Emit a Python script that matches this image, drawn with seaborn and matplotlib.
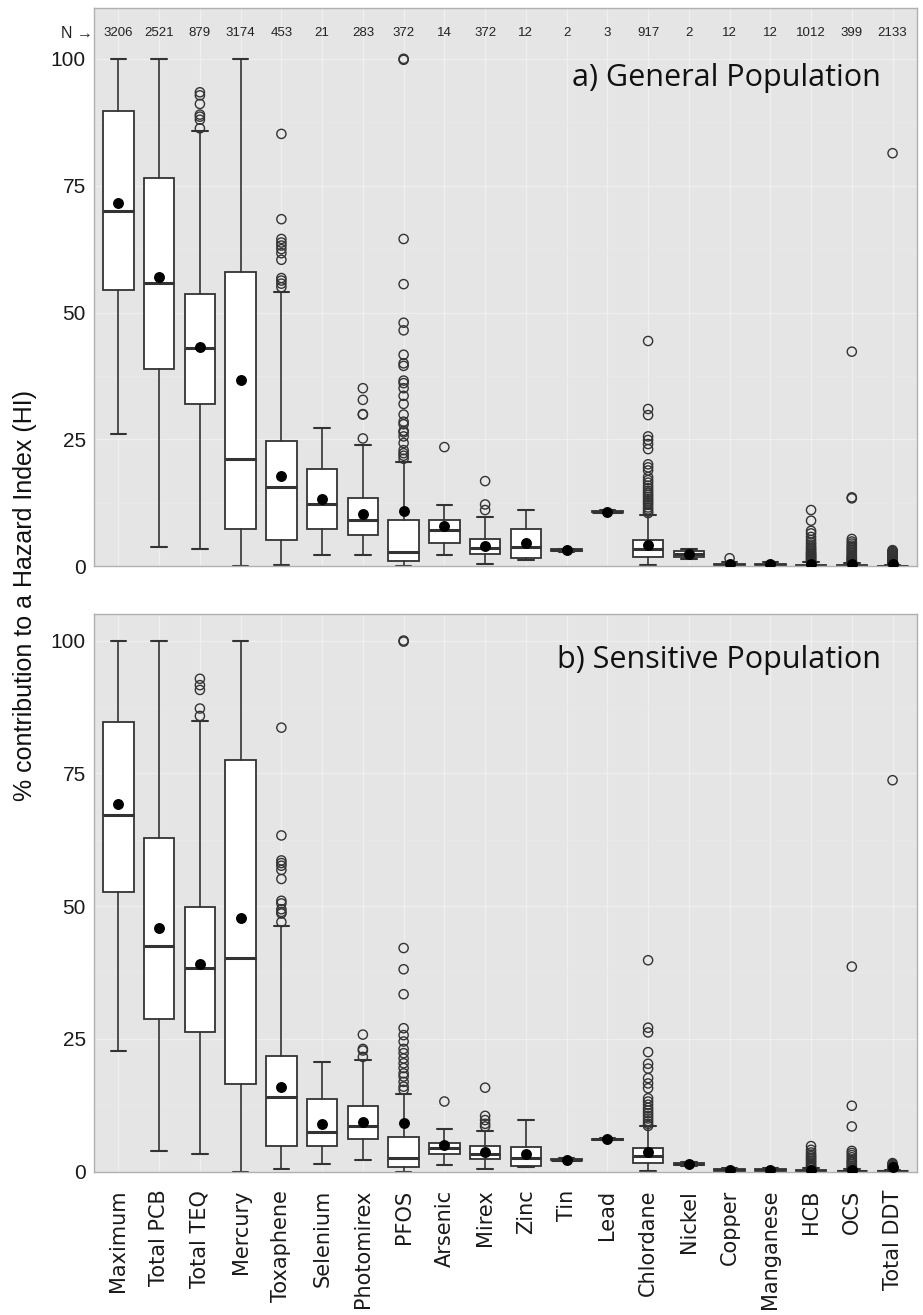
import numpy as np
import pandas as pd
import matplotlib
matplotlib.use("Agg")
import matplotlib.pyplot as plt
import seaborn as sns

# ---------------- data ----------------
categories = ["Maximum", "Total PCB", "Total TEQ", "Mercury", "Toxaphene", "Selenium",
              "Photomirex", "PFOS", "Arsenic", "Mirex", "Zinc", "Tin", "Lead", "Chlordane",
              "Nickel", "Copper", "Manganese", "HCB", "OCS", "Total DDT"]
n_counts = [3206, 2521, 879, 3174, 453, 21, 283, 372, 14, 372, 12, 2, 3, 917, 2, 12, 12, 1012, 399, 2133]

# a) General Population
a_lo = [26.0, 3.9, 3.4, 0.0, 0.3, 2.3, 2.2, 0.0, 2.2, 0.4, 1.2, 2.9, 10.5, 0.2, 1.5, 0.1, 0.1, 0.0, 0.0, 0.0]
a_q1 = [54.4, 38.8, 32.0, 7.4, 5.1, 7.4, 6.2, 1.0, 4.6, 2.4, 1.6, 3.05, 10.65, 1.9, 1.9, 0.2, 0.2, 0.05, 0.03, 0.02]
a_med = [70.1, 55.8, 43.0, 21.1, 15.6, 12.2, 9.1, 2.8, 7.2, 3.6, 3.8, 3.2, 10.8, 3.35, 2.5, 0.3, 0.3, 0.15, 0.1, 0.05]
a_q3 = [89.8, 76.5, 53.6, 58.0, 24.7, 19.1, 13.4, 9.1, 9.1, 5.4, 7.3, 3.35, 10.95, 5.2, 3.1, 0.5, 0.5, 0.35, 0.25, 0.12]
a_hi = [100, 100, 85.7, 100, 54.0, 27.3, 23.9, 20.6, 12.0, 9.7, 11.2, 3.5, 11.1, 10.1, 3.5, 0.9, 0.8, 0.8, 0.6, 0.3]
a_mean = [71.5, 57.1, 43.2, 36.7, 17.9, 13.3, 10.3, 11.0, 7.9, 4.0, 4.7, 3.2, 10.8, 4.2, 2.4, 0.4, 0.4, 0.5, 0.5, 0.4]
a_outliers = [
    [], [],
    [93.4, 92.8, 91.1, 89.0, 88.6, 88.0, 86.3],
    [],
    [85.2, 68.4, 64.5, 63.8, 63.2, 62.5, 61.7, 60.4, 56.8, 56.3, 55.7, 55.0],
    [],
    [35.1, 32.8, 30.0, 29.9, 25.2],
    [100.0, 99.8, 64.5, 55.6, 48.0, 46.5, 41.7, 40.0, 39.5, 36.6, 36.1, 35.1, 33.6, 32.0, 29.9,
     28.5, 28.0, 26.7, 26.4, 25.6, 24.3, 22.9, 22.3, 21.8, 21.2],
    [23.5],
    [16.8, 12.2, 11.1],
    [], [], [],
    [44.4, 31.0, 29.8, 25.6, 24.9, 24.1, 23.1, 20.1, 19.5, 18.9, 17.6, 17.0, 16.5, 15.9, 15.4,
     14.9, 14.5, 14.1, 13.7, 13.3, 12.9, 12.5, 12.1, 11.6, 11.2, 10.8, 10.5],
    [],
    [1.6],
    [],
    [11.1, 9.0, 7.0, 6.5, 5.8, 5.2, 4.7, 4.3, 3.9, 3.6, 3.3, 3.0, 2.7, 2.5, 2.3, 2.1, 1.9, 1.7,
     1.5, 1.3, 1.1, 0.9],
    [42.3, 13.6, 13.4, 5.4, 4.9, 4.5, 4.1, 3.8, 3.5, 3.2, 2.9, 2.6, 2.3, 2.0, 1.8, 1.6, 1.4, 1.2,
     1.0, 0.8, 0.6],
    [81.4, 3.2, 3.0, 2.8, 2.6, 2.4, 2.2, 2.0, 1.8, 1.6, 1.4, 1.2, 1.0, 0.8, 0.6, 0.4],
]

# b) Sensitive Population
b_lo = [22.7, 3.9, 3.3, 0.0, 0.4, 1.4, 2.2, 0.0, 1.2, 0.4, 0.8, 2.0, 6.0, 0.2, 1.0, 0.1, 0.1, 0.0, 0.0, 0.0]
b_q1 = [52.7, 28.7, 26.2, 16.5, 4.8, 4.9, 6.1, 0.9, 3.3, 2.4, 1.0, 2.1, 6.0, 1.6, 1.2, 0.15, 0.15, 0.05, 0.03, 0.02]
b_med = [67.2, 42.4, 38.3, 40.2, 14.1, 7.4, 8.5, 2.5, 4.4, 3.3, 2.6, 2.25, 6.1, 2.9, 1.4, 0.25, 0.25, 0.12, 0.08, 0.05]
b_q3 = [84.6, 62.9, 49.9, 77.5, 21.8, 13.6, 12.4, 6.5, 5.3, 4.8, 4.6, 2.4, 6.2, 4.5, 1.6, 0.4, 0.4, 0.3, 0.2, 0.1]
b_hi = [100, 100, 84.9, 100, 46.3, 20.6, 21.0, 14.7, 8.0, 7.6, 9.8, 2.5, 6.3, 8.5, 1.8, 0.7, 0.6, 0.7, 0.5, 0.25]
b_mean = [69.2, 45.8, 39.0, 47.7, 15.9, 8.9, 9.4, 9.2, 4.95, 3.6, 3.4, 2.25, 6.1, 3.7, 1.4, 0.35, 0.35, 0.3, 0.3, 0.9]
b_outliers = [
    [], [],
    [92.8, 91.6, 90.7, 87.2, 85.8],
    [],
    [83.6, 63.3, 58.6, 58.1, 57.6, 56.8, 55.1, 51.0, 50.5, 49.4, 48.9, 48.6, 47.0],
    [],
    [25.8, 23.1, 22.8, 21.6],
    [100.0, 99.8, 42.1, 38.1, 33.4, 27.0, 25.7, 24.5, 23.1, 22.3, 21.3, 20.4, 19.5, 18.5, 17.9,
     16.9, 16.0, 15.4],
    [13.2],
    [15.8, 10.5, 9.7, 9.0, 8.5],
    [], [], [],
    [39.8, 27.1, 26.2, 22.5, 20.3, 19.4, 17.6, 16.6, 15.7, 13.8, 13.2, 12.6, 12.0, 11.5, 11.0,
     10.5, 10.0, 9.5, 9.0, 8.6],
    [], [], [],
    [4.8, 4.1, 3.6, 3.2, 2.9, 2.6, 2.3, 2.0, 1.7, 1.4, 1.1, 0.9, 0.7],
    [38.6, 12.4, 8.5, 3.9, 3.5, 3.1, 2.7, 2.3, 2.0, 1.7, 1.4, 1.1, 0.8, 0.6],
    [73.7, 1.6, 1.4, 1.2, 1.0, 0.8, 0.6, 0.4],
]

# ---------------- style ----------------
sns.set_theme(style="darkgrid")
plt.rcParams["font.family"] = ["Liberation Sans", "DejaVu Sans"]
PANEL_BG = "#E5E5E5"
EDGE = "#333333"

fig = plt.figure(figsize=(9.23, 13.15), dpi=100)
ax_a = fig.add_axes([0.1018, 0.5693, 0.8917, 0.4246])
ax_b = fig.add_axes([0.1018, 0.10905, 0.8917, 0.42403])

positions = np.arange(len(categories))


def draw_panel(ax, lo, q1, med, q3, hi, mean, outl, ymax, label):
    ax.set_facecolor(PANEL_BG)
    stats = [dict(whislo=lo[i], q1=q1[i], med=med[i], q3=q3[i], whishi=hi[i],
                  fliers=[], label=categories[i]) for i in range(len(categories))]
    ax.bxp(stats, positions=positions, widths=0.75, capwidths=0.38,
           patch_artist=True, showfliers=False,
           boxprops=dict(facecolor="white", edgecolor=EDGE, linewidth=1.3),
           medianprops=dict(color=EDGE, linewidth=2.2, solid_capstyle="butt"),
           whiskerprops=dict(color=EDGE, linewidth=1.2),
           capprops=dict(color=EDGE, linewidth=1.5))
    ox, oy = [], []
    for i, vals in enumerate(outl):
        for v in vals:
            ox.append(i)
            oy.append(v)
    df_o = pd.DataFrame({"pos": ox, "val": oy})
    sns.scatterplot(data=df_o, x="pos", y="val", ax=ax, marker="o", s=44,
                    color=EDGE, facecolors="none", edgecolor=EDGE, linewidth=1.0,
                    legend=False, zorder=3)
    df_m = pd.DataFrame({"pos": positions, "mean": mean})
    sns.scatterplot(data=df_m, x="pos", y="mean", ax=ax, color="black", s=62,
                    edgecolor="black", linewidth=0, legend=False, zorder=4)

    ax.set_xlim(-0.6, len(categories) - 0.4)
    ax.set_ylim(0, ymax)
    ax.set_yticks([0, 25, 50, 75, 100])
    ax.set_yticks([12.5, 37.5, 62.5, 87.5], minor=True)
    ax.set_xticks(positions)
    ax.grid(True, which="major", color="#EFEFEF", linewidth=0.9)
    ax.grid(True, which="minor", axis="y", color="#EAEAEA", linewidth=0.5)
    ax.set_axisbelow(True)
    ax.set_xlabel("")
    ax.set_ylabel("")
    for s in ax.spines.values():
        s.set_visible(True)
        s.set_color("#B0B0B0")
        s.set_linewidth(1.0)
    ax.tick_params(axis="both", which="major", length=4, width=1.0, color=EDGE,
                   labelsize=15, labelcolor="#1A1A1A", pad=2)
    ax.tick_params(axis="y", which="minor", length=0)
    ax.text(18.72, 96.3, label, ha="right", va="center", fontsize=22,
            family=["Open Sans", "DejaVu Sans"], color="#111111")


draw_panel(ax_a, a_lo, a_q1, a_med, a_q3, a_hi, a_mean, a_outliers, 110, "a) General Population")
draw_panel(ax_b, b_lo, b_q1, b_med, b_q3, b_hi, b_mean, b_outliers, 105, "b) Sensitive Population")

ax_a.set_xticklabels([""] * len(categories))
ax_b.set_xticklabels(categories, rotation=90, fontsize=15, family=["DejaVu Sans"])
ax_b.tick_params(axis="x", pad=9)

for i, n in enumerate(n_counts):
    ax_a.text(i, 105, str(n), ha="center", va="center", fontsize=9.5, color="#222222")
ax_a.text(-0.63, 105, "N \u2192", ha="right", va="center", fontsize=11.5,
          family=["Liberation Sans", "DejaVu Sans"], color="#222222", clip_on=False)

fig.text(0.0271, 0.5475, "% contribution to a Hazard Index (HI)", rotation=90,
         ha="center", va="center", fontsize=18, color="#111111")

fig.savefig("out.png", dpi=100, facecolor="white")
